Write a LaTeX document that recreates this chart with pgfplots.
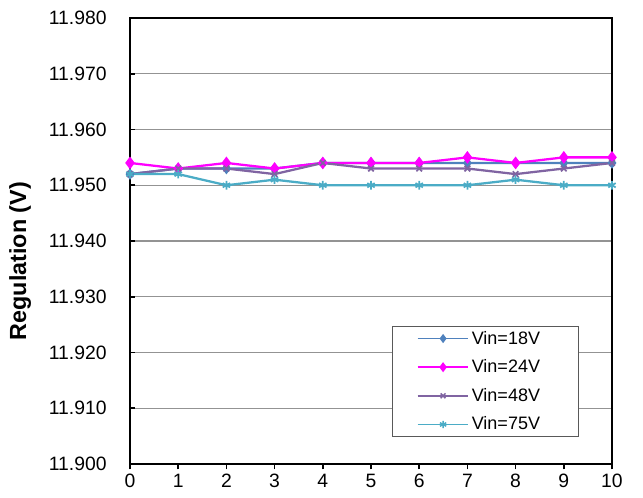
\documentclass[border=0pt]{standalone}
\usepackage{fontspec}
\setmainfont{Liberation Sans}
\usepackage{pgfplots}
\pgfplotsset{compat=1.18}
\definecolor{c18}{HTML}{4F81BD}
\definecolor{c24}{HTML}{FF00FF}
\definecolor{c48}{HTML}{8064A2}
\definecolor{c75}{HTML}{4BACC6}
\begin{document}
\begin{tikzpicture}
\useasboundingbox (-97.5pt,-24.75pt) rectangle (384.75pt,348pt);
\begin{axis}[
  at={(0,0)}, anchor=south west,
  width=361.5pt, height=334.5pt, scale only axis,
  xmin=0, xmax=10, ymin=11.90, ymax=11.98,
  xtick={0,1,...,10},
  ytick={11.90,11.91,11.92,11.93,11.94,11.95,11.96,11.97,11.98},
  xtick pos=bottom, ytick pos=left,
  xtick align=outside, ytick align=inside,
  major tick length=4pt,
  tick style={black, line width=1.2pt},
  axis line style={black, line width=1.5pt},
  ymajorgrids, grid style={gray!85, line width=0.8pt},
  /pgf/number format/assume math mode=true,
  yticklabel style={/pgf/number format/fixed, /pgf/number format/precision=3, /pgf/number format/fixed zerofill, xshift=-14pt},
  scaled y ticks=false,
  tick label style={font=\fontsize{14.5}{16}\selectfont},
  ylabel={\bfseries Regulation (V)},
  ylabel style={at={(axis description cs:-0.228,0.455)}, anchor=center, font=\fontsize{17.5}{19}\selectfont},
  legend style={at={(0.544,0.061)}, anchor=south west, draw=gray!70!black, line width=0.6pt,
    font=\fontsize{13.5}{15}\selectfont, row sep=6.2pt, column sep=0pt, inner xsep=0pt, inner ysep=1.3pt},
  legend cell align=left,
  legend image code/.code={\path (-18pt,0pt); \draw[#1, line width=1.1pt, mark repeat=2, mark phase=2, mark options={scale=0.85}] plot coordinates {(0pt,0pt) (19pt,0pt) (38pt,0pt)};},
  every axis plot/.append style={line width=1.7pt},
]
\addplot[color=c18, mark=diamond*, mark size=3pt] coordinates {
(0,11.952)(1,11.953)(2,11.953)(3,11.953)(4,11.954)(5,11.954)(6,11.954)(7,11.954)(8,11.954)(9,11.954)(10,11.954)};
\addlegendentry{Vin=18V\hspace*{27pt}}
\addplot[color=c24, mark=diamond*, mark size=3.4pt] coordinates {
(0,11.954)(1,11.953)(2,11.954)(3,11.953)(4,11.954)(5,11.954)(6,11.954)(7,11.955)(8,11.954)(9,11.955)(10,11.955)};
\addlegendentry{Vin=24V\hspace*{27pt}}
\addplot[color=c48, mark=x, mark size=3pt, mark options={line width=1.3pt}] coordinates {
(0,11.952)(1,11.953)(2,11.953)(3,11.952)(4,11.954)(5,11.953)(6,11.953)(7,11.953)(8,11.952)(9,11.953)(10,11.954)};
\addlegendentry{Vin=48V\hspace*{27pt}}
\addplot[color=c75, mark=asterisk, mark size=3.2pt, mark options={line width=1.3pt}] coordinates {
(0,11.952)(1,11.952)(2,11.950)(3,11.951)(4,11.950)(5,11.950)(6,11.950)(7,11.950)(8,11.951)(9,11.950)(10,11.950)};
\addlegendentry{Vin=75V\hspace*{27pt}}
\end{axis}
\end{tikzpicture}
\end{document}
